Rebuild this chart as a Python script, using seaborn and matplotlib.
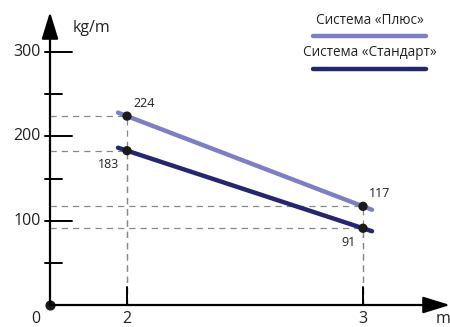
import numpy as np
import pandas as pd
import seaborn as sns
import matplotlib.pyplot as plt

# ---- data ----
lengths = [2, 3]                       # m
plus_vals = [224, 117]                 # kg/m, «Плюс»
standard_vals = [183, 91]              # kg/m, «Стандарт»
systems = ["Система «Плюс»", "Система «Стандарт»"]
y_major = [100, 200, 300]
y_minor = [50, 150, 250]
x_ticks = [2, 3]

colors = {systems[0]: "#7b80c3", systems[1]: "#24266e"}

sns.set_theme(style="white")
plt.rcParams['font.family'] = ['Open Sans', 'DejaVu Sans']

# the x axis in the picture is schematic (0, 2, 3 not evenly spaced),
# so use a piecewise scale
x_tab = [-10, 0, 2, 3, 10]
p_tab = [-385, 0, 77, 313, 1965]
def fwd(x):
    return np.interp(x, x_tab, p_tab)
def inv(p):
    return np.interp(p, p_tab, x_tab)

fig = plt.figure(figsize=(4.5, 3.27), dpi=100)
ax = fig.add_axes([0, 0, 1, 1])
ax.set_xscale('function', functions=(fwd, inv))
ax.set_xlim(inv(-50), inv(400))
ypx = 253 / 300.0
ax.set_ylim(-22 / ypx, 305 / ypx)
ax.set_axis_off()

# dashed guide lines
for vals in (plus_vals, standard_vals):
    for x, y in zip(lengths, vals):
        ax.plot([0, x], [y, y], ls=(0, (5, 4)), color="#888888", lw=0.9, zorder=1)
        ax.plot([x, x], [0, y], ls=(0, (5, 4)), color="#888888", lw=0.9, zorder=1)

# lines run a little past the points
ext = 9
rows = []
for name, vals in zip(systems, (plus_vals, standard_vals)):
    p2, p3 = fwd(lengths[0]), fwd(lengths[1])
    slope = (vals[1] - vals[0]) / (p3 - p2)
    rows.append((name, float(inv(p2 - ext)), vals[0] - slope * ext))
    rows.append((name, float(inv(p3 + ext)), vals[1] + slope * ext))
df = pd.DataFrame(rows, columns=["system", "x", "y"])
sns.lineplot(data=df, x="x", y="y", hue="system", palette=colors,
             estimator=None, lw=3.2, legend=False, ax=ax, zorder=3)

pts = pd.DataFrame({"x": lengths * 2, "y": plus_vals + standard_vals})
sns.scatterplot(data=pts, x="x", y="y", color="#1a1a1a", s=45,
                edgecolor="none", ax=ax, zorder=4)
ax.scatter([0], [0], color="#1a1a1a", s=40, zorder=4)

# value labels
offs = [((4.5, 9), 'left'), ((-5.5, -10), 'right')]
for vals, (off, ha) in zip((plus_vals, standard_vals), offs):
    for x, y in zip(lengths, vals):
        ax.annotate(str(y), (x, y), xytext=off, textcoords='offset points',
                    ha=ha, va='center', fontsize=9, color="#222222")

# axes with arrows
arrow = dict(arrowstyle='-|>,head_length=0.55,head_width=0.17',
             mutation_scale=30, lw=1.6, color='black', shrinkA=0, shrinkB=0)
ax.annotate('', xy=(0, 293 / ypx), xytext=(0, 0), arrowprops=arrow, zorder=5)
ax.annotate('', xy=(inv(400), 0), xytext=(0, 0), arrowprops=arrow, zorder=5)

# ticks
ytr = ax.get_yaxis_transform()
for v in y_major:
    ax.plot([45 / 450, 72 / 450], [v, v], color='black', lw=1.4, transform=ytr)
    ax.text(41 / 450, v, str(v), transform=ytr, ha='right', va='center',
            fontsize=11.5, color="#222222")
for v in y_minor:
    ax.plot([45 / 450, 62 / 450], [v, v], color='black', lw=1.4, transform=ytr)
xtr = ax.get_xaxis_transform()
for v in x_ticks:
    ax.plot([v, v], [0, 18 / ypx], color='black', lw=1.4, zorder=5)
    ax.text(v, 8 / 327, str(v), transform=xtr, ha='center', va='center',
            fontsize=11.5, color="#222222")
ax.text(36 / 450, 8 / 327, "0", transform=ax.transAxes, ha='center', va='center',
        fontsize=11.5, color="#222222")
ax.text(443 / 450, 8 / 327, "m", transform=ax.transAxes, ha='center', va='center',
        fontsize=11.5, color="#222222")
ax.text(73 / 450, 1 - 28 / 327, "kg/m", transform=ax.transAxes, ha='left',
        va='center', fontsize=11.5, color="#222222")

# legend: label above a line sample
for i, name in enumerate(systems):
    ty = 1 - (20 + 33 * i) / 327
    ly = 1 - (36 + 33 * i) / 327
    fig.text(370 / 450, ty, name, ha='center', va='center', fontsize=9.8,
             color="#222222")
    fig.add_artist(plt.Line2D([313 / 450, 426 / 450], [ly, ly], color=colors[name],
                              lw=3.2, solid_capstyle='round'))

fig.savefig("out.png", dpi=100)
